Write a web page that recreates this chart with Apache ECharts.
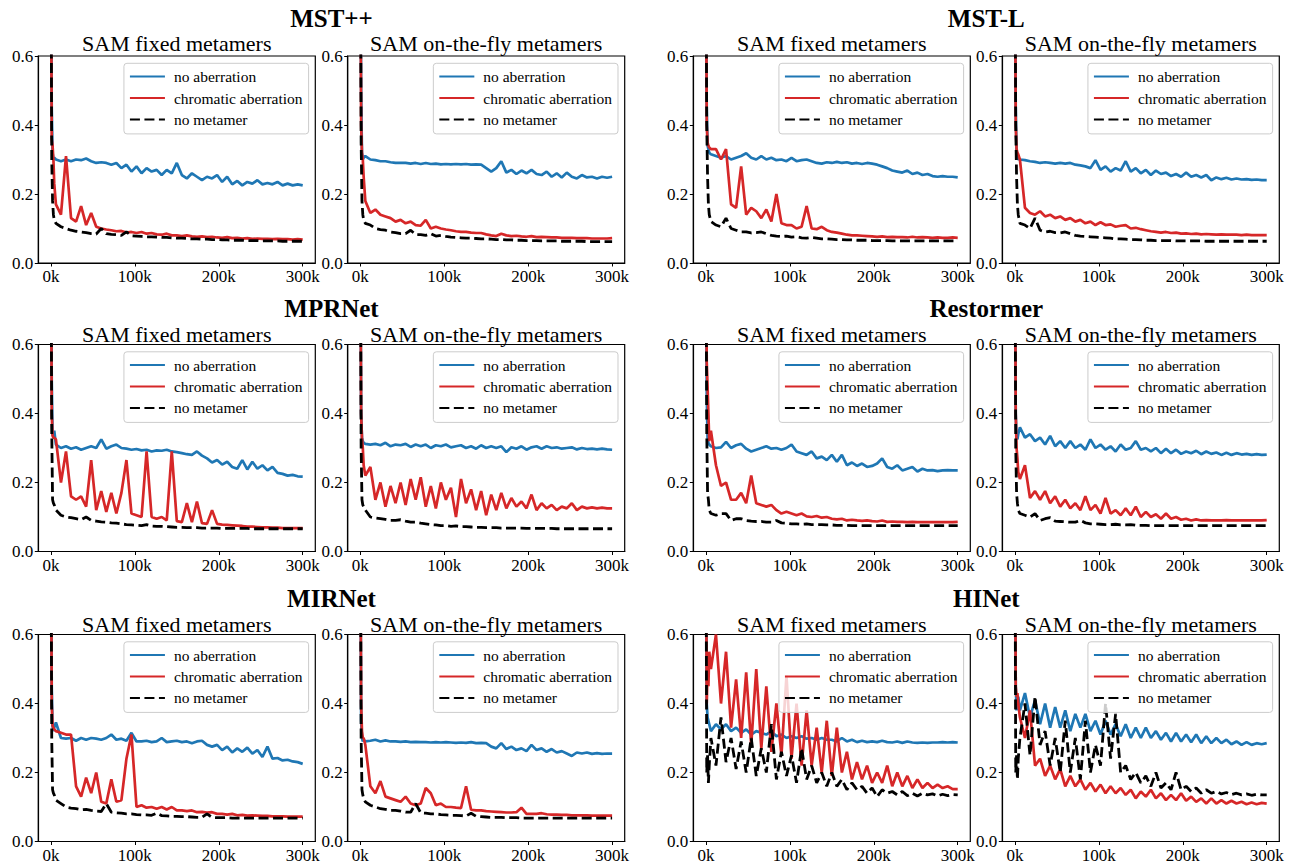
<!DOCTYPE html>
<html><head><meta charset="utf-8">
<script src="https://cdn.jsdelivr.net/npm/echarts@6/dist/echarts.min.js"></script>
<style>html,body{margin:0;padding:0;background:#fff}#chart{width:1295px;height:867px}</style>
</head><body><div id="chart"></div>
<script>
// training iterations (thousands)
const steps = [0,1,2,3,4,6,
 12,18,24,30,36,42,48,54,60,
 66,72,78,84,90,96,102,108,114,120,
 126,132,138,144,150,156,162,168,174,180,
 186,192,198,204,210,216,222,228,234,240,
 246,252,258,264,270,276,282,288,294,300];
const xTicks = [0,100,200,300];
const xTickLabels = ['0k','100k','200k','300k'];
const yTicks = [0,0.2,0.4,0.6];
const yTickLabels = ['0.0','0.2','0.4','0.6'];
const models = ['MST++','MST-L','MPRNet','Restormer','MIRNet','HINet'];
const subtitles = ['SAM fixed metamers','SAM on-the-fly metamers'];
const seriesNames = ['no aberration','chromatic aberration','no metamer'];

// MST++ fixed
const mstppFixedNoAb = [1.0,0.45,0.32,0.30,0.305,0.30,
 0.295,0.30,0.295,0.30,0.298,0.303,0.295,0.29,0.292,
 0.29,0.285,0.29,0.275,0.285,0.265,0.28,0.26,0.275,0.265,
 0.27,0.255,0.27,0.26,0.29,0.255,0.245,0.26,0.25,0.24,
 0.25,0.245,0.255,0.235,0.25,0.228,0.238,0.225,0.235,0.23,
 0.24,0.228,0.232,0.228,0.235,0.225,0.23,0.225,0.228,0.225];
const mstppFixedChrom = [1.0,0.36,0.34,0.30,0.23,0.17,
 0.14,0.31,0.13,0.12,0.165,0.11,0.145,0.105,0.10,
 0.097,0.095,0.092,0.093,0.088,0.09,0.087,0.09,0.085,0.087,
 0.083,0.082,0.085,0.08,0.08,0.078,0.08,0.077,0.076,0.077,
 0.075,0.076,0.074,0.073,0.075,0.072,0.073,0.071,0.072,0.07,
 0.071,0.07,0.07,0.069,0.07,0.069,0.069,0.068,0.069,0.068];
const mstppFixedNoMet = [1.0,0.30,0.18,0.14,0.125,0.115,
 0.105,0.10,0.095,0.092,0.09,0.088,0.085,0.084,0.10,
 0.085,0.083,0.082,0.08,0.09,0.079,0.078,0.077,0.076,0.076,
 0.075,0.074,0.074,0.073,0.072,0.072,0.071,0.07,0.07,0.069,
 0.069,0.068,0.068,0.067,0.067,0.066,0.066,0.066,0.065,0.065,
 0.065,0.064,0.064,0.064,0.064,0.063,0.063,0.063,0.063,0.063];
// MST++ on-the-fly
const mstppFlyNoAb = [1.0,0.5,0.32,0.30,0.305,0.31,
 0.30,0.298,0.295,0.295,0.292,0.29,0.29,0.29,0.288,
 0.29,0.287,0.29,0.287,0.288,0.286,0.287,0.286,0.287,0.286,
 0.287,0.285,0.286,0.285,0.275,0.265,0.275,0.295,0.262,0.27,
 0.258,0.268,0.26,0.27,0.258,0.255,0.265,0.25,0.26,0.248,
 0.262,0.25,0.245,0.255,0.248,0.25,0.245,0.25,0.247,0.25];
const mstppFlyChrom = [1.0,0.4,0.32,0.30,0.25,0.18,
 0.145,0.155,0.14,0.135,0.13,0.12,0.125,0.115,0.12,
 0.11,0.108,0.125,0.10,0.105,0.10,0.097,0.095,0.092,0.09,
 0.09,0.088,0.087,0.087,0.083,0.08,0.078,0.085,0.08,0.078,
 0.079,0.077,0.076,0.078,0.075,0.076,0.075,0.074,0.074,0.073,
 0.073,0.073,0.072,0.072,0.072,0.071,0.071,0.071,0.071,0.072];
const mstppFlyNoMet = [1.0,0.35,0.18,0.14,0.125,0.115,
 0.11,0.10,0.097,0.095,0.09,0.088,0.085,0.085,0.095,
 0.082,0.082,0.08,0.085,0.078,0.08,0.077,0.075,0.074,0.073,
 0.072,0.072,0.071,0.07,0.07,0.069,0.068,0.068,0.067,0.067,
 0.066,0.066,0.065,0.065,0.065,0.064,0.064,0.064,0.064,0.063,
 0.063,0.063,0.063,0.063,0.062,0.062,0.062,0.062,0.062,0.062];
// MST-L fixed
const mstlFixedNoAb = [1.0,0.45,0.34,0.33,0.32,0.315,
 0.31,0.305,0.31,0.30,0.305,0.31,0.318,0.305,0.30,
 0.31,0.30,0.305,0.298,0.30,0.295,0.305,0.295,0.298,0.30,
 0.295,0.29,0.288,0.292,0.29,0.293,0.29,0.292,0.288,0.29,
 0.287,0.29,0.288,0.285,0.28,0.275,0.268,0.265,0.262,0.268,
 0.258,0.262,0.255,0.258,0.252,0.25,0.252,0.25,0.25,0.248];
const mstlFixedChrom = [1.0,0.4,0.35,0.34,0.335,0.33,
 0.33,0.30,0.33,0.17,0.16,0.28,0.14,0.16,0.15,
 0.13,0.155,0.12,0.20,0.115,0.11,0.11,0.10,0.105,0.165,
 0.10,0.098,0.105,0.095,0.09,0.088,0.085,0.082,0.08,0.08,
 0.079,0.078,0.077,0.076,0.077,0.075,0.076,0.075,0.075,0.074,
 0.076,0.074,0.075,0.074,0.073,0.074,0.073,0.073,0.074,0.073];
const mstlFixedNoMet = [1.0,0.4,0.25,0.17,0.14,0.12,
 0.11,0.105,0.13,0.10,0.095,0.09,0.09,0.087,0.088,
 0.09,0.085,0.08,0.078,0.077,0.078,0.075,0.076,0.073,0.072,
 0.074,0.072,0.07,0.07,0.069,0.068,0.068,0.067,0.067,0.066,
 0.066,0.066,0.065,0.065,0.065,0.065,0.064,0.064,0.064,0.064,
 0.064,0.064,0.064,0.064,0.064,0.064,0.064,0.064,0.064,0.064];
// MST-L on-the-fly
const mstlFlyNoAb = [1.0,0.45,0.32,0.30,0.302,0.30,
 0.298,0.295,0.293,0.29,0.292,0.29,0.288,0.29,0.288,
 0.29,0.285,0.283,0.28,0.275,0.298,0.27,0.28,0.265,0.275,
 0.268,0.295,0.265,0.275,0.26,0.27,0.255,0.268,0.258,0.262,
 0.252,0.258,0.25,0.262,0.25,0.255,0.248,0.255,0.24,0.248,
 0.243,0.247,0.242,0.245,0.242,0.243,0.241,0.242,0.24,0.24];
const mstlFlyChrom = [1.0,0.4,0.33,0.32,0.315,0.30,
 0.16,0.145,0.14,0.15,0.135,0.14,0.13,0.135,0.125,
 0.13,0.12,0.125,0.115,0.12,0.11,0.118,0.11,0.112,0.105,
 0.108,0.11,0.10,0.102,0.098,0.095,0.092,0.09,0.088,0.09,
 0.087,0.088,0.085,0.086,0.084,0.085,0.083,0.084,0.083,0.082,
 0.083,0.082,0.082,0.082,0.081,0.082,0.081,0.081,0.081,0.081];
const mstlFlyNoMet = [1.0,0.4,0.25,0.17,0.14,0.115,
 0.11,0.10,0.13,0.095,0.09,0.092,0.088,0.087,0.09,
 0.085,0.08,0.078,0.077,0.076,0.075,0.074,0.073,0.072,0.07,
 0.07,0.069,0.068,0.068,0.067,0.066,0.066,0.065,0.065,0.065,
 0.065,0.064,0.064,0.064,0.064,0.064,0.064,0.063,0.063,0.063,
 0.063,0.063,0.063,0.063,0.063,0.063,0.063,0.063,0.063,0.063];
// MPRNet fixed
const mprFixedNoAb = [1.0,0.5,0.34,0.335,0.35,0.31,
 0.30,0.305,0.298,0.302,0.295,0.30,0.305,0.30,0.325,
 0.298,0.305,0.31,0.30,0.298,0.295,0.297,0.293,0.295,0.29,
 0.293,0.292,0.295,0.29,0.288,0.285,0.282,0.28,0.29,0.278,
 0.27,0.258,0.265,0.252,0.26,0.245,0.24,0.265,0.238,0.26,
 0.24,0.25,0.235,0.245,0.228,0.225,0.22,0.222,0.218,0.217];
const mprFixedChrom = [1.0,0.4,0.335,0.33,0.33,0.325,
 0.20,0.29,0.16,0.15,0.16,0.13,0.265,0.12,0.175,
 0.115,0.17,0.11,0.17,0.265,0.11,0.105,0.10,0.29,0.10,
 0.095,0.10,0.09,0.29,0.088,0.085,0.14,0.085,0.145,0.082,
 0.08,0.12,0.08,0.078,0.077,0.076,0.075,0.074,0.072,0.072,
 0.071,0.07,0.07,0.069,0.069,0.068,0.068,0.068,0.068,0.068];
const mprFixedNoMet = [1.0,0.35,0.15,0.14,0.135,0.12,
 0.105,0.10,0.098,0.095,0.092,0.10,0.09,0.088,0.086,
 0.085,0.083,0.082,0.08,0.078,0.077,0.076,0.075,0.078,0.074,
 0.073,0.073,0.072,0.071,0.07,0.07,0.069,0.069,0.069,0.068,
 0.068,0.068,0.068,0.067,0.067,0.067,0.067,0.067,0.067,0.066,
 0.066,0.066,0.066,0.066,0.066,0.066,0.066,0.066,0.066,0.066];
// MPRNet on-the-fly
const mprFlyNoAb = [1.0,0.4,0.33,0.32,0.315,0.312,
 0.31,0.312,0.308,0.315,0.305,0.31,0.308,0.312,0.303,
 0.31,0.305,0.31,0.30,0.308,0.305,0.31,0.302,0.305,0.308,
 0.30,0.305,0.298,0.308,0.30,0.305,0.30,0.305,0.288,0.302,
 0.298,0.305,0.295,0.302,0.305,0.298,0.305,0.30,0.302,0.298,
 0.30,0.302,0.296,0.30,0.297,0.298,0.296,0.298,0.296,0.295];
const mprFlyChrom = [1.0,0.4,0.33,0.30,0.25,0.22,
 0.245,0.15,0.20,0.13,0.19,0.14,0.20,0.135,0.21,
 0.15,0.215,0.13,0.19,0.125,0.20,0.15,0.185,0.10,0.21,
 0.14,0.18,0.12,0.175,0.105,0.165,0.12,0.17,0.125,0.155,
 0.13,0.145,0.125,0.165,0.12,0.14,0.125,0.135,0.12,0.13,
 0.125,0.14,0.12,0.13,0.125,0.128,0.125,0.127,0.125,0.125];
const mprFlyNoMet = [1.0,0.3,0.15,0.135,0.13,0.12,
 0.10,0.097,0.095,0.093,0.09,0.09,0.092,0.088,0.085,
 0.085,0.082,0.08,0.078,0.077,0.075,0.075,0.073,0.074,0.072,
 0.072,0.071,0.07,0.07,0.069,0.069,0.069,0.068,0.068,0.068,
 0.068,0.068,0.067,0.067,0.067,0.067,0.067,0.067,0.066,0.066,
 0.066,0.066,0.066,0.066,0.066,0.066,0.066,0.066,0.066,0.066];
// Restormer fixed
const restFixedNoAb = [1.0,0.45,0.33,0.315,0.31,0.305,
 0.30,0.302,0.318,0.30,0.308,0.312,0.298,0.29,0.295,
 0.30,0.305,0.298,0.30,0.295,0.30,0.31,0.29,0.285,0.28,
 0.29,0.27,0.275,0.265,0.28,0.26,0.28,0.25,0.258,0.248,
 0.255,0.245,0.248,0.255,0.27,0.245,0.24,0.25,0.235,0.24,
 0.245,0.232,0.24,0.235,0.236,0.233,0.235,0.236,0.235,0.235];
const restFixedChrom = [1.0,0.55,0.48,0.40,0.32,0.35,
 0.25,0.19,0.20,0.15,0.15,0.17,0.14,0.22,0.14,
 0.135,0.13,0.135,0.12,0.11,0.115,0.11,0.105,0.11,0.102,
 0.10,0.103,0.098,0.10,0.095,0.093,0.095,0.09,0.092,0.09,
 0.089,0.09,0.088,0.087,0.09,0.086,0.087,0.086,0.086,0.085,
 0.086,0.085,0.085,0.085,0.085,0.085,0.085,0.085,0.085,0.086];
const restFixedNoMet = [1.0,0.35,0.17,0.15,0.12,0.11,
 0.105,0.11,0.11,0.09,0.095,0.095,0.09,0.088,0.087,
 0.087,0.085,0.085,0.09,0.083,0.082,0.08,0.08,0.079,0.08,
 0.078,0.078,0.078,0.077,0.077,0.076,0.076,0.076,0.075,0.075,
 0.075,0.075,0.075,0.075,0.075,0.075,0.075,0.075,0.075,0.075,
 0.075,0.075,0.075,0.075,0.075,0.075,0.075,0.075,0.075,0.075];
// Restormer on-the-fly
const restFlyNoAb = [1.0,0.4,0.33,0.325,0.34,0.36,
 0.33,0.34,0.32,0.33,0.31,0.335,0.305,0.32,0.30,
 0.32,0.30,0.31,0.295,0.325,0.30,0.31,0.295,0.305,0.29,
 0.31,0.295,0.30,0.32,0.295,0.30,0.29,0.30,0.285,0.298,
 0.285,0.295,0.283,0.29,0.285,0.292,0.282,0.29,0.283,0.287,
 0.28,0.286,0.28,0.285,0.281,0.283,0.28,0.282,0.28,0.281];
const restFlyChrom = [1.0,0.4,0.30,0.27,0.23,0.21,
 0.25,0.155,0.175,0.15,0.175,0.14,0.16,0.13,0.15,
 0.125,0.14,0.12,0.16,0.12,0.135,0.11,0.155,0.11,0.12,
 0.105,0.125,0.105,0.13,0.10,0.115,0.10,0.108,0.095,0.11,
 0.095,0.10,0.092,0.095,0.09,0.093,0.09,0.091,0.09,0.09,
 0.09,0.091,0.09,0.09,0.09,0.09,0.09,0.09,0.09,0.091];
const restFlyNoMet = [1.0,0.3,0.17,0.14,0.12,0.11,
 0.105,0.10,0.11,0.09,0.095,0.098,0.088,0.087,0.086,
 0.085,0.085,0.09,0.083,0.08,0.08,0.079,0.078,0.078,0.079,
 0.077,0.077,0.078,0.076,0.076,0.076,0.075,0.075,0.075,0.075,
 0.075,0.075,0.075,0.075,0.075,0.075,0.075,0.075,0.075,0.075,
 0.075,0.075,0.075,0.075,0.075,0.075,0.075,0.075,0.075,0.075];
// MIRNet fixed
const mirFixedNoAb = [1.0,0.45,0.335,0.32,0.33,0.345,
 0.30,0.298,0.30,0.292,0.30,0.295,0.30,0.298,0.295,
 0.30,0.31,0.295,0.298,0.292,0.315,0.29,0.29,0.292,0.288,
 0.29,0.30,0.288,0.29,0.292,0.288,0.29,0.285,0.29,0.292,
 0.28,0.275,0.28,0.265,0.275,0.258,0.27,0.26,0.272,0.255,
 0.265,0.245,0.275,0.24,0.242,0.235,0.237,0.232,0.23,0.225];
const mirFixedChrom = [1.0,0.4,0.335,0.33,0.325,0.32,
 0.315,0.31,0.31,0.16,0.13,0.185,0.14,0.20,0.115,
 0.11,0.18,0.115,0.12,0.24,0.31,0.10,0.105,0.098,0.10,
 0.095,0.10,0.093,0.10,0.09,0.09,0.088,0.09,0.085,0.086,
 0.084,0.085,0.08,0.08,0.078,0.08,0.076,0.077,0.075,0.076,
 0.075,0.074,0.074,0.073,0.073,0.073,0.072,0.072,0.072,0.072];
const mirFixedNoMet = [1.0,0.3,0.15,0.14,0.135,0.12,
 0.11,0.10,0.097,0.095,0.092,0.093,0.09,0.088,0.087,
 0.11,0.085,0.083,0.082,0.08,0.08,0.078,0.077,0.077,0.076,
 0.082,0.075,0.074,0.073,0.073,0.072,0.072,0.071,0.07,0.07,
 0.08,0.07,0.069,0.069,0.069,0.068,0.068,0.068,0.068,0.068,
 0.068,0.068,0.068,0.068,0.068,0.068,0.068,0.068,0.068,0.068];
// MIRNet on-the-fly
const mirFlyNoAb = [1.0,0.35,0.30,0.29,0.295,0.29,
 0.292,0.295,0.29,0.293,0.29,0.29,0.289,0.29,0.288,
 0.289,0.288,0.288,0.287,0.288,0.287,0.288,0.287,0.286,0.287,
 0.286,0.288,0.285,0.286,0.285,0.275,0.27,0.285,0.268,0.275,
 0.265,0.27,0.262,0.28,0.265,0.27,0.26,0.268,0.258,0.262,
 0.255,0.248,0.258,0.255,0.258,0.254,0.256,0.254,0.255,0.255];
const mirFlyChrom = [1.0,0.4,0.32,0.30,0.30,0.28,
 0.16,0.14,0.175,0.13,0.125,0.12,0.115,0.13,0.11,
 0.105,0.11,0.155,0.14,0.105,0.11,0.10,0.10,0.098,0.097,
 0.16,0.092,0.09,0.09,0.088,0.087,0.086,0.085,0.084,0.084,
 0.085,0.098,0.08,0.08,0.08,0.082,0.079,0.078,0.078,0.077,
 0.077,0.076,0.076,0.076,0.076,0.075,0.075,0.075,0.075,0.075];
const mirFlyNoMet = [1.0,0.3,0.15,0.135,0.125,0.115,
 0.105,0.10,0.095,0.093,0.09,0.09,0.088,0.085,0.085,
 0.11,0.083,0.082,0.08,0.08,0.078,0.077,0.076,0.076,0.075,
 0.074,0.082,0.073,0.072,0.071,0.07,0.07,0.07,0.069,0.069,
 0.069,0.068,0.068,0.068,0.068,0.068,0.068,0.068,0.068,0.068,
 0.068,0.068,0.068,0.068,0.068,0.068,0.068,0.068,0.068,0.068];
// HINet fixed
const hinFixedNoAb = [1.0,0.4,0.36,0.35,0.34,0.32,
 0.34,0.325,0.34,0.32,0.33,0.315,0.325,0.31,0.32,
 0.315,0.31,0.32,0.305,0.31,0.30,0.305,0.30,0.305,0.298,
 0.30,0.295,0.30,0.295,0.295,0.29,0.30,0.29,0.295,0.288,
 0.292,0.288,0.29,0.288,0.292,0.288,0.287,0.29,0.286,0.29,
 0.287,0.286,0.287,0.286,0.287,0.287,0.288,0.287,0.288,0.287];
const hinFixedChrom = [1.0,0.4,0.5,0.45,0.55,0.5,
 0.6,0.4,0.55,0.33,0.47,0.3,0.49,0.28,0.5,
 0.27,0.45,0.26,0.4,0.25,0.48,0.24,0.4,0.22,0.38,
 0.22,0.33,0.2,0.35,0.19,0.33,0.2,0.26,0.18,0.23,
 0.18,0.22,0.17,0.2,0.17,0.22,0.16,0.2,0.16,0.19,
 0.155,0.18,0.155,0.17,0.155,0.165,0.155,0.16,0.152,0.152];
const hinFixedNoMet = [1.0,0.2,0.25,0.17,0.22,0.3,
 0.22,0.36,0.23,0.3,0.21,0.29,0.2,0.3,0.19,
 0.27,0.2,0.34,0.18,0.26,0.19,0.25,0.17,0.27,0.18,
 0.22,0.17,0.2,0.16,0.2,0.16,0.18,0.15,0.17,0.15,
 0.16,0.14,0.155,0.13,0.15,0.14,0.145,0.135,0.145,0.133,
 0.14,0.132,0.14,0.135,0.138,0.132,0.137,0.133,0.136,0.135];
// HINet on-the-fly
const hinFlyNoAb = [1.0,0.45,0.38,0.4,0.42,0.38,
 0.43,0.36,0.41,0.34,0.4,0.33,0.39,0.33,0.38,
 0.32,0.37,0.33,0.37,0.32,0.35,0.31,0.35,0.31,0.34,
 0.305,0.34,0.30,0.33,0.30,0.33,0.30,0.32,0.295,0.315,
 0.29,0.315,0.29,0.31,0.288,0.31,0.285,0.305,0.285,0.30,
 0.285,0.295,0.282,0.29,0.28,0.288,0.28,0.285,0.282,0.285];
const hinFlyChrom = [1.0,0.45,0.42,0.43,0.4,0.36,
 0.3,0.38,0.22,0.24,0.19,0.22,0.18,0.21,0.16,
 0.19,0.16,0.18,0.15,0.17,0.145,0.165,0.14,0.16,0.14,
 0.155,0.135,0.15,0.125,0.145,0.13,0.15,0.125,0.14,0.12,
 0.135,0.12,0.14,0.118,0.13,0.115,0.125,0.11,0.125,0.11,
 0.12,0.11,0.118,0.11,0.115,0.108,0.113,0.108,0.112,0.11];
const hinFlyNoMet = [1.0,0.2,0.25,0.18,0.24,0.3,
 0.4,0.25,0.42,0.28,0.32,0.22,0.3,0.2,0.35,
 0.2,0.3,0.18,0.35,0.2,0.28,0.22,0.4,0.24,0.37,
 0.2,0.22,0.18,0.2,0.17,0.19,0.16,0.2,0.155,0.17,
 0.15,0.2,0.15,0.16,0.145,0.155,0.14,0.15,0.14,0.145,
 0.138,0.142,0.136,0.14,0.135,0.138,0.134,0.137,0.135,0.135];

// panels in reading order (row by row, 4 per row)
const panelData = [
  [mstppFixedNoAb, mstppFixedChrom, mstppFixedNoMet],
  [mstppFlyNoAb, mstppFlyChrom, mstppFlyNoMet],
  [mstlFixedNoAb, mstlFixedChrom, mstlFixedNoMet],
  [mstlFlyNoAb, mstlFlyChrom, mstlFlyNoMet],
  [mprFixedNoAb, mprFixedChrom, mprFixedNoMet],
  [mprFlyNoAb, mprFlyChrom, mprFlyNoMet],
  [restFixedNoAb, restFixedChrom, restFixedNoMet],
  [restFlyNoAb, restFlyChrom, restFlyNoMet],
  [mirFixedNoAb, mirFixedChrom, mirFixedNoMet],
  [mirFlyNoAb, mirFlyChrom, mirFlyNoMet],
  [hinFixedNoAb, hinFixedChrom, hinFixedNoMet],
  [hinFlyNoAb, hinFlyChrom, hinFlyNoMet]
];

// ---- layout / style ----
const W = 1295;
const colLeft = [38.3, 347.7, 693.3, 1002.3];
const plotW = 277;
const rowTop = [56, 344.5, 634.5];
const plotH = 207;
const mainTitleY = [18.7, 308.3, 598.3];
const subTitleY = [43.3, 334, 624];
const colors = ['#1f77b4', '#d62728', '#000000'];
const FONT = 'Liberation Serif';

const grids = [], xAxes = [], yAxes = [], series = [], legends = [], titles = [];
for (let p = 0; p < 12; p++) {
  const r = Math.floor(p / 4), c = p % 4;
  const left = colLeft[c], top = rowTop[r];
  grids.push({left: left, top: top, width: plotW, height: plotH, show: true,
    borderColor: '#000', borderWidth: 1.2, backgroundColor: 'transparent', containLabel: false});
  xAxes.push({type: 'value', gridIndex: p, min: -15, max: 315,
    splitLine: {show: false},
    axisLine: {show: true, onZero: false, lineStyle: {color: '#000', width: 1.2}},
    axisTick: {show: true, inside: false, length: 3.5, customValues: xTicks, lineStyle: {color: '#000', width: 1}},
    axisLabel: {customValues: xTicks, margin: 5, color: '#000', fontFamily: FONT, fontSize: 17,
      formatter: v => xTickLabels[xTicks.indexOf(v)]}
  });
  yAxes.push({type: 'value', gridIndex: p, min: 0, max: 0.6, interval: 0.2,
    splitLine: {show: false},
    axisLine: {show: true, onZero: false, lineStyle: {color: '#000', width: 1.2}},
    axisTick: {show: true, inside: false, length: 3.5, lineStyle: {color: '#000', width: 1}},
    axisLabel: {margin: 5, color: '#000', fontFamily: FONT, fontSize: 17,
      formatter: v => yTickLabels[yTicks.findIndex(t => Math.abs(t - v) < 1e-9)]}
  });
  panelData[p].forEach((arr, k) => {
    series.push({type: 'line', name: seriesNames[k], xAxisIndex: p, yAxisIndex: p,
      data: steps.map((x, j) => [x, arr[j]]),
      symbol: 'none', showSymbol: false, clip: true, silent: true,
      lineStyle: {color: colors[k], width: k === 2 ? 2.8 : 2.7, type: k === 2 ? [10, 4.5] : 'solid'},
      itemStyle: {color: colors[k]},
      emphasis: {disabled: true}
    });
  });
  legends.push({orient: 'vertical', right: W - (left + plotW - 6.7), top: top + 7.3,
    itemWidth: 35, itemHeight: 14, itemGap: 5.4, padding: [5.3, 6, 6.5, 5],
    backgroundColor: 'rgba(255,255,255,0.8)', borderColor: '#cccccc', borderWidth: 1, borderRadius: 3,
    selectedMode: false,
    itemStyle: {color: 'rgba(0,0,0,0)', borderColor: 'rgba(0,0,0,0)', borderWidth: 0, opacity: 0},
    lineStyle: {opacity: 1},
    textStyle: {fontFamily: FONT, fontSize: 15.5, color: '#000', padding: [0, 0, 0, 4]},
    data: seriesNames.slice()
  });
  titles.push({text: subtitles[c % 2], left: left + plotW / 2, top: subTitleY[r],
    textAlign: 'center', textVerticalAlign: 'middle', padding: 0,
    textStyle: {fontFamily: FONT, fontSize: 22, fontWeight: 'normal', color: '#000', lineHeight: 22}});
}
for (let m = 0; m < 6; m++) {
  const r = Math.floor(m / 2), half = m % 2;
  const cx = (colLeft[half * 2] + colLeft[half * 2 + 1] + plotW) / 2;
  titles.push({text: models[m], left: cx, top: mainTitleY[r],
    textAlign: 'center', textVerticalAlign: 'middle', padding: 0,
    textStyle: {fontFamily: FONT, fontSize: 25, fontWeight: 'bold', color: '#000', lineHeight: 25}});
}

const chart = echarts.init(document.getElementById('chart'), null, {renderer: 'svg', width: 1295, height: 867});
chart.setOption({
  animation: false,
  backgroundColor: '#ffffff',
  textStyle: {fontFamily: FONT},
  title: titles,
  grid: grids,
  xAxis: xAxes,
  yAxis: yAxes,
  legend: legends,
  series: series
});
</script></body></html>
